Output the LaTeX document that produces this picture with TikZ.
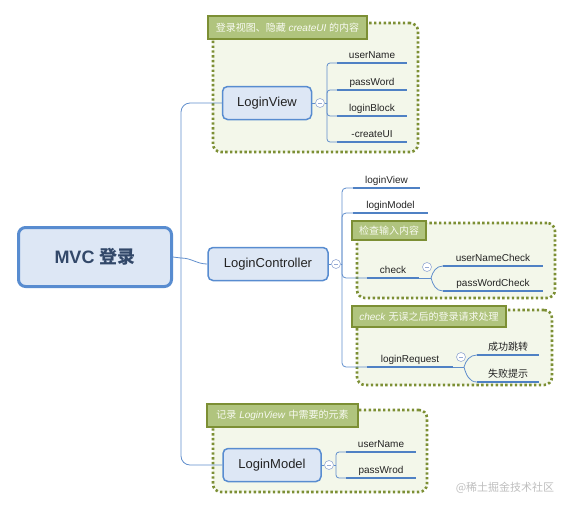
\documentclass[tikz,border=0pt]{standalone}
\usepackage{fontspec}
\setmainfont{Liberation Sans}
\newfontfamily\cjk{Noto Sans CJK SC}
\usetikzlibrary{positioning}

\definecolor{linkC}{RGB}{96,142,204}
\definecolor{ulineC}{RGB}{79,129,196}
\definecolor{boxF}{RGB}{221,231,245}
\definecolor{boxD}{RGB}{88,140,208}
\definecolor{grpF}{RGB}{243,247,234}
\definecolor{grpD}{RGB}{124,143,52}
\definecolor{tagF}{RGB}{176,196,126}
\definecolor{tagT}{RGB}{248,250,242}
\definecolor{foldC}{RGB}{150,170,212}
\definecolor{textC}{RGB}{35,35,35}
\definecolor{rootT}{RGB}{50,72,105}
\definecolor{markC}{RGB}{190,190,190}

\begin{document}
\begin{tikzpicture}[
  x=1pt, y=-1pt,
  root/.style={rounded corners=7pt, draw=boxD, line width=3pt, fill=boxF,
    minimum width=153, minimum height=59, text=rootT,
    font=\fontsize{18}{20}\selectfont\bfseries},
  topic/.style={rounded corners=5pt, draw=boxD, line width=1.5pt, fill=boxF,
    minimum width=#1, minimum height=33, text=textC,
    font=\fontsize{13}{15}\selectfont},
  leaf/.style={anchor=south, minimum width=#1, inner xsep=0pt, inner ysep=4pt,
    text depth=0pt, text=textC, font=\fontsize{10}{12}\selectfont},
  group/.style={draw=grpD, fill=grpF, line width=2.6pt, dash pattern=on 2.4pt off 2.4pt,
    rounded corners=8pt},
  tag/.style={draw=grpD, fill=tagF, line width=2.6pt, text=tagT,
    minimum width=#1, inner xsep=2pt, font=\fontsize{10}{12}\selectfont},
  fold/.style={circle, draw=foldC, line width=0.6pt, fill=white, minimum size=9pt,
    inner sep=0pt, path picture={\draw[foldC, line width=0.6pt]
      ([xshift=-2.2pt]path picture bounding box.center) --
      ([xshift=2.2pt]path picture bounding box.center);}},
  link/.style={draw=linkC, line width=0.8pt},
  uline/.style={draw=ulineC, line width=2.8pt}
]
  \useasboundingbox (0,0) rectangle (572,509);

  % groups
  \node[group, minimum width=205, minimum height=129] (gview) at (315.5,87.5) {};
  \node[group, minimum width=198, minimum height=75] (gcheck) at (456,260.5) {};
  \node[group, minimum width=195, minimum height=75] (greq) at (454.5,347.5) {};
  \node[group, minimum width=214, minimum height=82] (gmodel) at (320,451) {};

  % group labels
  \node[tag=159, minimum height=23] (tview) at (287.5,27.5)
    {{\cjk 登录视图、隐藏} \textit{createUI} {\cjk 的内容}};
  \node[tag=74, minimum height=19] (tcheck) at (389,230.5) {\cjk 检查输入内容};
  \node[tag=154, minimum height=21] (treq) at (429,316.5)
    {\textit{check} {\cjk 无误之后的登录请求处理}};
  \node[tag=151, minimum height=23] (tmodel) at (282.5,415.5)
    {{\cjk 记录} \textit{LoginView} {\cjk 中需要的元素}};

  % root and topics
  \node[root] (root) at (95,257) {MVC {\cjk 登录}};
  \node[topic=89] (view) at (267,103) {LoginView};
  \node[topic=120] (ctrl) at (268,264) {LoginController};
  \node[topic=98] (model) at (272,465) {LoginModel};
  \coordinate (hub) at (181,258);

  \draw[link] (root.east) -- (hub);
  \draw[link, rounded corners=9pt] (hub) |- (view.west);
  \draw[link, rounded corners=9pt] (hub) |- (model.west);
  \draw[link] (hub) to[out=0, in=180] (ctrl.west);

  % LoginView children
  \node[fold] (vfold) at (320,103) {};
  \coordinate (vbus) at (327,103);
  \draw[link] (view.east) -- (vfold.west) (vfold.east) -- (vbus);
  \foreach \n/\t/\y in {vuser/userName/63, vpass/passWord/90,
                        vblock/loginBlock/116, vcreate/-createUI/142} {
    \node[leaf=70] (\n) at (372,\y) {\t};
    \draw[link, rounded corners=3pt] (vbus) |- (\n.south west);
    \draw[uline] (\n.south west) -- (\n.south east);
  }

  % LoginController children
  \node[fold] (cfold) at (336,264) {};
  \coordinate (cbus) at (342,264);
  \draw[link] (ctrl.east) -- (cfold.west) (cfold.east) -- (cbus);
  \foreach \n/\t/\x/\y/\w in {cview/loginView/386.5/188/67, cmodel/loginModel/390.5/213/75,
                              chk/check/393/278/52, req/loginRequest/410/367/86} {
    \node[leaf=\w] (\n) at (\x,\y) {\t};
    \draw[link, rounded corners=4pt] (cbus) |- (\n.south west);
    \draw[uline] (\n.south west) -- (\n.south east);
  }

  % check children
  \node[fold] (chkfold) at (427,267) {};
  \coordinate (chkfork) at (431,278);
  \draw[link] (chk.south east) -- (chkfork);
  \foreach \n/\t/\y/\o in {unc/userNameCheck/266/75, pwc/passWordCheck/291/-75} {
    \node[leaf=100] (\n) at (493,\y) {\t};
    \draw[link] (chkfork) to[out=\o, in=180] (\n.south west);
    \draw[uline] (\n.south west) -- (\n.south east);
  }

  % loginRequest children
  \node[fold] (reqfold) at (461,357) {};
  \coordinate (reqfork) at (464,367);
  \draw[link] (req.south east) -- (reqfork);
  \foreach \n/\t/\y/\o in {ok/成功跳转/355/75, fail/失败提示/382/-75} {
    \node[leaf=62] (\n) at (508,\y) {\cjk \t};
    \draw[link] (reqfork) to[out=\o, in=180] (\n.south west);
    \draw[uline] (\n.south west) -- (\n.south east);
  }

  % LoginModel children
  \node[fold] (mfold) at (329,465) {};
  \coordinate (mbus) at (336,465);
  \draw[link] (model.east) -- (mfold.west) (mfold.east) -- (mbus);
  \foreach \n/\t/\y in {muser/userName/452, mpass/passWrod/478} {
    \node[leaf=70] (\n) at (381,\y) {\t};
    \draw[link, rounded corners=3pt] (mbus) |- (\n.south west);
    \draw[uline] (\n.south west) -- (\n.south east);
  }

  % watermark
  \node[text=markC, font=\cjk\fontsize{11}{13}\selectfont] (mark)
    at (505,488) {@稀土掘金技术社区};
\end{tikzpicture}
\end{document}
